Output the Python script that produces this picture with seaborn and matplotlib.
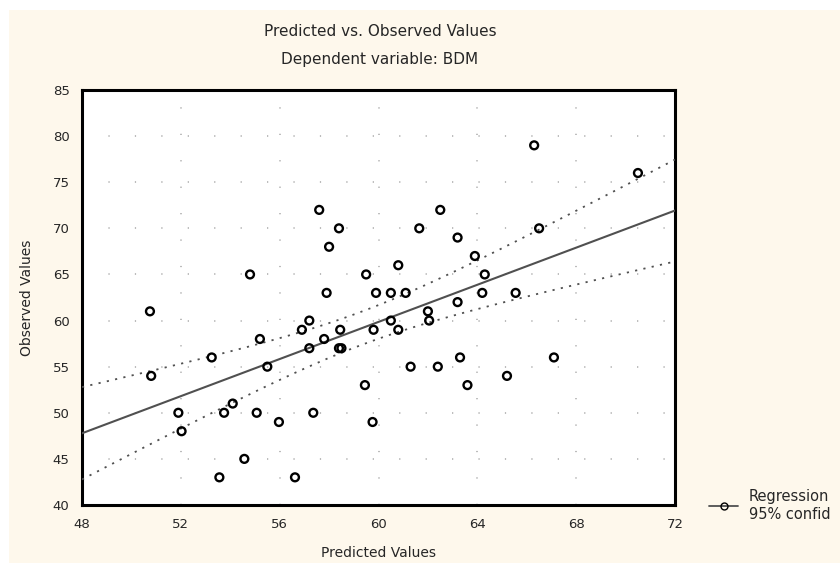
import numpy as np
import pandas as pd
import matplotlib
matplotlib.use("Agg")
import matplotlib.pyplot as plt
from matplotlib.lines import Line2D
from matplotlib.patches import Rectangle
import seaborn as sns

# values
predicted = [66.3, 70.5, 57.6, 62.5, 58.4, 61.65, 66.5, 63.2, 58.0, 63.9,
             60.8, 54.8, 59.5, 64.3, 57.9, 59.9, 60.5, 61.1, 64.2, 65.55,
             63.2, 50.75, 62.0, 57.2, 60.5, 62.05, 56.9, 58.45, 59.8, 60.8,
             55.2, 57.8, 57.2, 58.4, 58.5, 53.25, 63.3, 67.1, 55.5, 61.3,
             62.4, 50.8, 65.2, 59.45, 63.6, 54.1, 51.9, 53.75, 55.07, 57.36,
             55.97, 59.76, 52.03, 54.57, 53.56, 56.62]
observed = [79, 76, 72, 72, 70, 70, 70, 69, 68, 67,
            66, 65, 65, 65, 63, 63, 63, 63, 63, 63,
            62, 61, 61, 60, 60, 60, 59, 59, 59, 59,
            58, 58, 57, 57, 57, 56, 56, 56, 55, 55,
            55, 54, 54, 53, 53, 51, 50, 50, 50, 50,
            49, 49, 48, 45, 43, 43]
x_ticks = [48, 52, 56, 60, 64, 68, 72]
y_ticks = [40, 45, 50, 55, 60, 65, 70, 75, 80, 85]

df = pd.DataFrame({"Predicted": predicted, "Observed": observed})

# linear fit and 95% confidence band for the mean
x = df["Predicted"].to_numpy()
y = df["Observed"].to_numpy()
n = len(x)
b, a = np.polyfit(x, y, 1)
resid = y - (a + b * x)
s = np.sqrt((resid ** 2).sum() / (n - 2))
sxx = ((x - x.mean()) ** 2).sum()
t = 2.005  # t(0.975, n-2)
grid = np.linspace(x_ticks[0], x_ticks[-1], 100)
fit = a + b * grid
se = s * np.sqrt(1 / n + (grid - x.mean()) ** 2 / sxx)
band = pd.DataFrame({"x": grid, "fit": fit, "lo": fit - t * se, "hi": fit + t * se})

sns.set_style("white")
plt.rcParams["font.family"] = ["DejaVu Sans"]

fig = plt.figure(figsize=(8.4, 5.65), dpi=100, facecolor="white")
fig.patches.append(Rectangle((9 / 840, 0.003), 1, 1 - 10 / 565 - 0.003,
                             transform=fig.transFigure, facecolor="#fef8ec",
                             edgecolor="none", zorder=-1))
ax = fig.add_axes([82 / 840, 1 - 505 / 565, (675 - 82) / 840, (505 - 90) / 565])
ax.set_facecolor("white")

line_col = "#505050"
sns.lineplot(data=band, x="x", y="fit", ax=ax, color=line_col, lw=1.5, zorder=3)
sns.lineplot(data=band, x="x", y="lo", ax=ax, color=line_col, lw=1.3,
             linestyle=(0, (1.2, 3.5)), zorder=3)
sns.lineplot(data=band, x="x", y="hi", ax=ax, color=line_col, lw=1.3,
             linestyle=(0, (1.2, 3.5)), zorder=3)
sns.scatterplot(data=df, x="Predicted", y="Observed", ax=ax, marker="o",
                s=32, facecolor="none", edgecolor="black", linewidth=1.7, zorder=4)

ax.set_xlim(x_ticks[0], x_ticks[-1])
ax.set_ylim(y_ticks[0], y_ticks[-1])
ax.set_xticks(x_ticks)
ax.set_yticks(y_ticks)
ax.tick_params(length=0, labelsize=9.5, pad=9)
ax.grid(True, color="#a8a8a8", lw=1.1, linestyle=(0, (0.8, 16.5)))
for sp in ax.spines.values():
    sp.set_linewidth(2.2)
    sp.set_color("black")
ax.set_xlabel("Predicted Values", fontsize=10, labelpad=11)
ax.set_ylabel("Observed Values", fontsize=10, labelpad=13)

fig.text(380 / 840, 1 - 32 / 565, "Predicted vs. Observed Values",
         ha="center", va="center", fontsize=11)
fig.text(380 / 840, 1 - 60 / 565, "Dependent variable: BDM",
         ha="center", va="center", fontsize=11)

# legend text is cut at the right edge in the reference: keep the visible part
handle = Line2D([], [], color=line_col, lw=1.3, marker="o", markersize=5,
                markerfacecolor="none", markeredgecolor="black")
fig.legend([handle], ["Regression\n95% confid"], loc="upper left",
           bbox_to_anchor=(702 / 840, 1 - 482 / 565), frameon=False,
           fontsize=10.5, handlelength=2.0, handletextpad=0.7, borderpad=0,
           labelspacing=0.2)

fig.savefig("out.png", dpi=100)
